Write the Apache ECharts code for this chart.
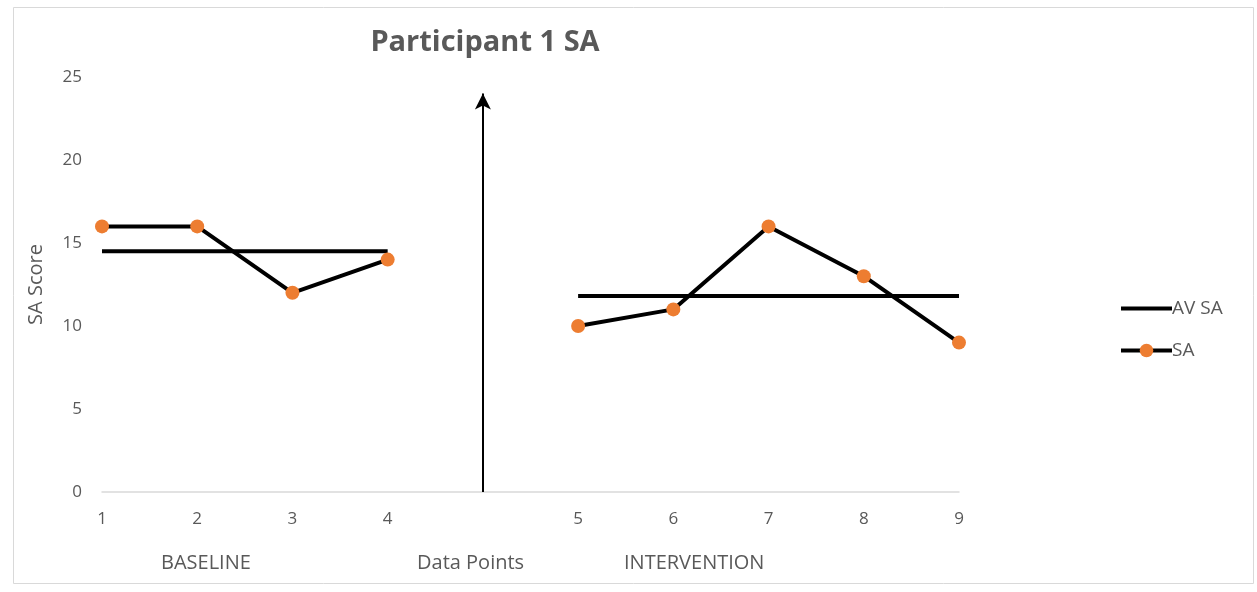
<!DOCTYPE html>
<html><head><meta charset="utf-8">
<script src="https://cdn.jsdelivr.net/npm/echarts@6/dist/echarts.min.js"></script>
<style>html,body{margin:0;padding:0;background:#fff}#c{width:1257px;height:592px}</style>
</head><body><div id="c"></div>
<script>
const categories = ['1','2','3','4','','5','6','7','8','9'];
const avSA = [14.5,14.5,14.5,14.5,null,11.8,11.8,11.8,11.8,11.8];
const sa = [16,16,12,14,null,10,11,16,13,9];
const yTicks = {min:0, max:25, interval:5};
const arrowTop = 24;
const phaseLabels = ['BASELINE','Data Points','INTERVENTION'];

const FONT = '"Open Sans", sans-serif';
const GRAY = '#595959';
const chart = echarts.init(document.getElementById('c'));
chart.setOption({
  animation:false,
  backgroundColor:'#fff',
  title:{text:'Participant 1 SA', left:480, top:23, textAlign:'center',
    textStyle:{fontFamily:FONT, fontSize:29, fontWeight:'bold', color:GRAY}},
  grid:{left:102, right:298, top:77, bottom:100},
  legend:{orient:'vertical', left:1114, top:294, itemWidth:51, itemHeight:17, itemGap:23,
    lineStyle:{width:4},
    textStyle:{fontFamily:FONT, fontSize:19, color:GRAY, padding:[0,0,0,-5]},
    data:[{name:'AV SA', itemStyle:{opacity:0}}, 'SA']},
  xAxis:{type:'category', data:categories, boundaryGap:false,
    axisLine:{lineStyle:{color:'#d9d9d9', width:1.5}}, axisTick:{show:false},
    axisLabel:{fontFamily:FONT, fontSize:17, color:GRAY, margin:19}},
  yAxis:{type:'value', min:yTicks.min, max:yTicks.max, interval:yTicks.interval,
    name:'SA Score', nameLocation:'middle', nameGap:56,
    nameTextStyle:{fontFamily:FONT, fontSize:20, color:GRAY},
    axisLine:{show:false}, axisTick:{show:false}, splitLine:{show:false},
    axisLabel:{fontFamily:FONT, fontSize:17, color:GRAY, margin:20}},
  series:[
    {name:'AV SA', type:'line', data:avSA, symbol:'none', connectNulls:false,
      lineStyle:{color:'#000', width:4}, itemStyle:{color:'#000'},
      markLine:{silent:true, symbol:['none','arrow'], symbolSize:[12,16], label:{show:false},
        lineStyle:{color:'#000', width:2, type:'solid'},
        data:[[{coord:[4,0]},{coord:[4,arrowTop]}]]}},
    {name:'SA', type:'line', data:sa, symbol:'circle', symbolSize:14, connectNulls:false,
      lineStyle:{color:'#000', width:4}, itemStyle:{color:'#ED7D31', borderWidth:0}}
  ],
  graphic:[
    {type:'rect', shape:{x:13.5, y:7.5, width:1240, height:576}, style:{fill:'none', stroke:'#d9d9d9', lineWidth:1}, z:-1},
    {type:'text', left:161, top:553, style:{text:phaseLabels[0], font:'20px '+FONT, fill:GRAY}},
    {type:'text', left:417, top:553, style:{text:phaseLabels[1], font:'20px '+FONT, fill:GRAY}},
    {type:'text', left:624, top:553, style:{text:phaseLabels[2], font:'20px '+FONT, fill:GRAY}}
  ]
});
</script></body></html>
